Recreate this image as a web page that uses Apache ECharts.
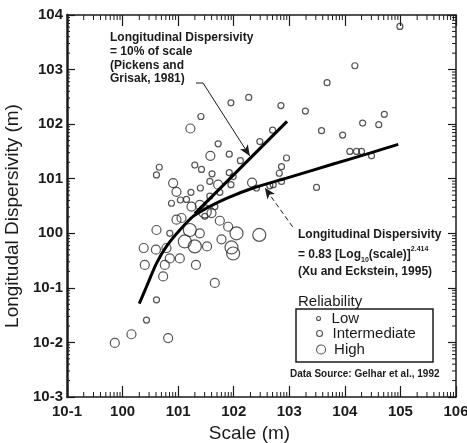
<!DOCTYPE html>
<html>
<head>
<meta charset="utf-8">
<script src="https://cdn.jsdelivr.net/npm/echarts@6/dist/echarts.min.js"></script>
<style>
html, body { margin: 0; padding: 0; background: #fff; }
#main { width: 467px; height: 443px; }
</style>
</head>
<body>
<div id="main"></div>
<script>
// points as [log10(scale), log10(dispersivity)]
var lowPts = [
  [4.99,3.79],[4.18,3.07],[3.68,2.76],[3.29,2.24],[2.85,2.34],[2.27,2.49],[1.95,2.39],[1.41,2.14],
  [4.71,2.18],[4.32,2.02],[4.61,1.99],[3.58,1.88],[3.96,1.80],[2.70,1.89],[2.47,1.68],[1.72,1.64],
  [4.09,1.50],[4.21,1.50],[4.30,1.50],[4.48,1.42],[2.95,1.38],[2.86,1.22],[2.82,1.10],[2.86,0.95],
  [2.71,0.89],[2.65,0.87],[2.41,0.83],[3.49,0.84],[1.92,1.45],[2.12,1.33],[1.92,1.11],[1.99,1.04],
  [1.95,0.89],[1.30,1.25],[1.42,1.17],[1.61,1.09],[1.57,0.95],[1.40,0.83],[1.75,0.75],[1.23,0.75],
  [1.15,0.62],[0.66,1.21],[0.61,1.07],[0.88,0.55],[1.04,0.61],[1.48,0.31],[1.66,0.49],[0.85,0.00],
  [0.61,-1.22],[0.43,-1.59],[1.57,0.68]
];
var intermediatePts = [
  [1.22,1.92],[1.58,1.42],[2.33,0.93],[1.72,0.89],[0.91,0.92],[0.97,0.76],[1.24,0.49],[1.39,0.52],
  [1.60,0.37],[1.75,0.23],[1.90,0.12],[1.78,-0.11],[1.66,-0.91],[1.52,-0.24],[1.39,0.00],[1.32,-0.58],
  [1.03,-0.46],[0.97,0.25],[1.06,0.28],[0.79,-0.27],[0.85,-0.46],[0.76,-0.58],[0.73,-0.79],[0.61,0.06],
  [0.60,-0.30],[0.38,-0.27],[0.40,-0.58],[0.82,-1.92],[0.16,-1.85],[-0.14,-2.01]
];
var highPts = [
  [2.05,0.00],[1.96,-0.26],[1.99,-0.37],[2.46,-0.03],[1.30,-0.24],[1.21,0.06],[1.12,-0.15],[1.48,0.40]
];
// Xu and Eckstein (1995) curve and the 10% line, as drawn
var xuCurvePts = [
  [0.30,-1.29],[0.43,-0.98],[0.61,-0.55],[0.79,-0.24],[1.03,0.06],[1.27,0.31],[1.51,0.46],
  [1.87,0.64],[2.35,0.83],[2.95,1.01],[3.79,1.27],[4.39,1.45],[4.96,1.63]
];
var tenPctPts = [[1.30,0.36],[2.96,2.05]];

var xDecades = [-1, 0, 1, 2, 3, 4, 5];
var yDecades = [-3, -2, -1, 0, 1, 2, 3];
var minorMult = [2, 3, 4, 5, 6, 7, 8, 9];

var FONT = '"Liberation Sans", Arial, Helvetica, sans-serif';
var ink = '#1b1b1b';

function unlog(arr) {
  return arr.map(function (p) { return [Math.pow(10, p[0]), Math.pow(10, p[1])]; });
}
function minorTicks(decs) {
  var out = [];
  decs.forEach(function (d) {
    minorMult.forEach(function (k) { out.push(k * Math.pow(10, d)); });
  });
  return out;
}
var xMinor = minorTicks(xDecades).map(function (v) { return [v, 1]; });
var yMinor = minorTicks(yDecades).map(function (v) { return [1, v]; });

function tickLbl(v) {
  return '10' + Math.round(Math.log10(v));
}

function renderXMinor(params, api) {
  var x = api.coord([api.value(0), 1])[0];
  var r = params.coordSys;
  var st = { stroke: ink, lineWidth: 1 };
  return { type: 'group', children: [
    { type: 'line', shape: { x1: x, y1: r.y + r.height, x2: x, y2: r.y + r.height - 5 }, style: st },
    { type: 'line', shape: { x1: x, y1: r.y, x2: x, y2: r.y + 5 }, style: st }
  ]};
}
function renderYMinor(params, api) {
  var y = api.coord([1, api.value(1)])[1];
  var r = params.coordSys;
  var st = { stroke: ink, lineWidth: 1 };
  return { type: 'group', children: [
    { type: 'line', shape: { x1: r.x, y1: y, x2: r.x + 3, y2: y }, style: st },
    { type: 'line', shape: { x1: r.x + r.width, y1: y, x2: r.x + r.width - 4, y2: y }, style: st }
  ]};
}

function logAxis(pos, isX) {
  var ax = {
    type: 'log', logBase: 10, position: pos,
    min: isX ? 0.1 : 0.001, max: isX ? 1e6 : 1e4, splitNumber: 7,
    axisLine: { show: true, lineStyle: { color: ink, width: 1.5 } },
    axisTick: { show: true, inside: true, length: isX ? 11 : 8, lineStyle: { color: ink, width: 1.2 } },
    axisLabel: { show: false },
    splitLine: { show: false }
  };
  return ax;
}

var xBottom = logAxis('bottom', true);
xBottom.name = 'Scale (m)';
xBottom.nameLocation = 'middle';
xBottom.nameGap = 26;
xBottom.nameTextStyle = { fontFamily: FONT, fontSize: 19, color: ink, padding: [0, 24, 0, 0] };
xBottom.axisLabel = { show: true, formatter: tickLbl, fontFamily: FONT, fontSize: 15, fontWeight: 'bold',
  color: ink, margin: 7 };

var yLeft = logAxis('left', false);
yLeft.axisLine.lineStyle.width = 2.5;
yLeft.name = 'Longitudal Dispersivity (m)';
yLeft.nameLocation = 'middle';
yLeft.nameGap = 45;
yLeft.nameTextStyle = { fontFamily: FONT, fontSize: 19, color: ink, padding: [0, 20, 0, 0] };
yLeft.axisLabel = { show: true, formatter: tickLbl, fontFamily: FONT, fontSize: 15, fontWeight: 'bold',
  color: ink, margin: 4 };

var ring = { color: 'transparent', borderColor: '#2a2a2a', borderWidth: 1.2 };

function legendFor(name, top, h) {
  return {
    data: [name], left: 316, top: top, padding: 0, itemWidth: 16, itemHeight: h,
    selectedMode: false,
    itemStyle: { color: 'transparent', borderColor: '#2a2a2a', borderWidth: 1.1 },
    textStyle: { fontFamily: FONT, fontSize: 15, color: ink }
  };
}

var chart = echarts.init(document.getElementById('main'));
chart.setOption({
  animation: false,
  backgroundColor: '#fff',
  grid: { left: 67, right: 11, top: 15, bottom: 46, containLabel: false, outerBoundsMode: 'none' },
  xAxis: [xBottom, logAxis('top', true)],
  yAxis: [yLeft, logAxis('right', false)],
  legend: [
    legendFor('Low', 311, 4),
    legendFor('Intermediate', 326, 6),
    legendFor('High', 342, 9)
  ],
  series: [
    { type: 'custom', renderItem: renderXMinor, data: xMinor, silent: true, z: 1 },
    { type: 'custom', renderItem: renderYMinor, data: yMinor, silent: true, z: 1 },
    { type: 'scatter', name: 'Low', data: unlog(lowPts), symbol: 'circle', symbolSize: 6, itemStyle: ring },
    { type: 'scatter', name: 'Intermediate', data: unlog(intermediatePts), symbol: 'circle', symbolSize: 9, itemStyle: ring },
    { type: 'scatter', name: 'High', data: unlog(highPts), symbol: 'circle', symbolSize: 13, itemStyle: ring },
    {
      type: 'line', name: 'Xu and Eckstein', data: unlog(xuCurvePts), smooth: 0.3, symbol: 'none', z: 5,
      lineStyle: { color: '#000', width: 3 },
      markLine: {
        silent: true, symbol: ['none', 'arrow'], symbolSize: [7, 11], label: { show: false },
        lineStyle: { color: ink, width: 1, type: [5, 3] },
        data: [[{ coord: [1150, 1.31] }, { coord: [363, 6.8] }]]
      }
    },
    {
      type: 'line', name: 'Pickens and Grisak', data: unlog(tenPctPts), symbol: 'none', z: 5,
      lineStyle: { color: '#000', width: 3 },
      markLine: {
        silent: true, symbol: ['none', 'arrow'], symbolSize: [7, 11], label: { show: false },
        lineStyle: { color: ink, width: 1, type: 'solid' },
        data: [[{ coord: [28, 569] }, { coord: [195, 26] }]]
      }
    }
  ],
  graphic: [
    { type: 'text', x: 110, y: 31, z: 10, style: {
      text: 'Longitudinal Dispersivity\n= 10% of scale\n(Pickens and\nGrisak, 1981)',
      font: 'bold 12px ' + FONT, fill: ink, lineHeight: 13.7 } },
    { type: 'line', z: 10, shape: { x1: 196, y1: 83, x2: 203, y2: 83 },
      style: { stroke: ink, lineWidth: 1 } },
    { type: 'text', x: 298, y: 235, z: 10, style: {
      text: 'Longitudinal Dispersivity', font: 'bold 12px ' + FONT, fill: ink,
      verticalAlign: 'middle', textVerticalAlign: 'middle' } },
    { type: 'text', x: 298, y: 255, z: 10, style: {
      text: '{a|= 0.83 [Log}{s|10}{a|(scale)]}{p|2.414}', fill: ink,
      verticalAlign: 'middle', textVerticalAlign: 'middle',
      rich: {
        a: { font: 'bold 12px ' + FONT, fill: ink, lineHeight: 18, verticalAlign: 'middle' },
        s: { font: 'bold 7px ' + FONT, fill: ink, verticalAlign: 'bottom' },
        p: { font: 'bold 7px ' + FONT, fill: ink, verticalAlign: 'top' }
      } } },
    { type: 'text', x: 298, y: 272, z: 10, style: {
      text: '(Xu and Eckstein, 1995)', font: 'bold 12px ' + FONT, fill: ink,
      verticalAlign: 'middle', textVerticalAlign: 'middle' } },
    { type: 'text', x: 298, y: 302, z: 10, style: {
      text: 'Reliability', font: '15px ' + FONT, fill: ink,
      verticalAlign: 'middle', textVerticalAlign: 'middle' } },
    { type: 'rect', z: 10, shape: { x: 296, y: 309, width: 137, height: 53 },
      style: { fill: 'none', stroke: ink, lineWidth: 1.5 } },
    { type: 'text', x: 290, y: 374, z: 10, style: {
      text: 'Data Source: Gelhar et al., 1992', font: 'bold 10px ' + FONT, fill: ink,
      verticalAlign: 'middle', textVerticalAlign: 'middle' } }
  ]
});
</script>
</body>
</html>
